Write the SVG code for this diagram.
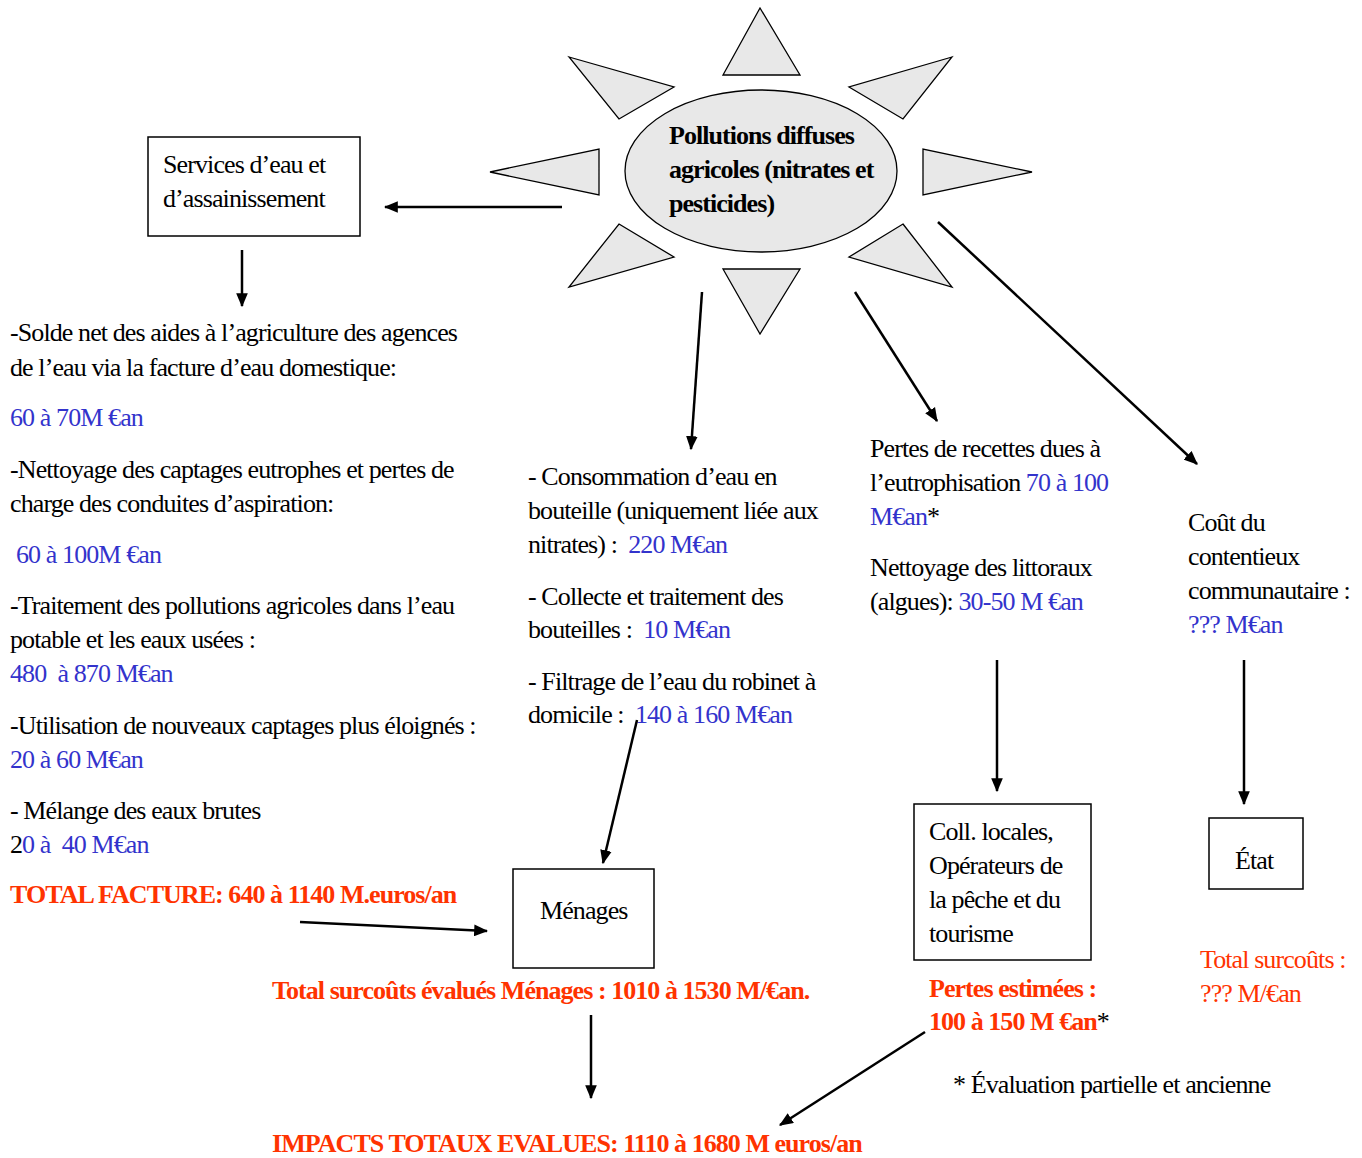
<svg xmlns="http://www.w3.org/2000/svg" width="1362" height="1158" viewBox="0 0 1362 1158">
<style>
text{font-family:"Liberation Serif","Times New Roman",serif;font-size:26px;letter-spacing:-0.9px;fill:#000}
.b{font-weight:bold;letter-spacing:-0.95px}
.bl{fill:#3333CC}
.rd{fill:#FF3300}
.k{fill:#000}
.ray{fill:#E8E8E8;stroke:#000;stroke-width:1.3}
.box{fill:#fff;stroke:#000;stroke-width:1.5}
.c{stroke:#000;stroke-width:2.5;fill:none;marker-end:url(#ah)}
</style>
<defs>
<marker id="ah" viewBox="0 0 12 10" refX="11" refY="5" markerWidth="14" markerHeight="12" markerUnits="userSpaceOnUse" orient="auto">
<path d="M0,0 L12,5 L0,10 Z" fill="#000"/>
</marker>
</defs>
<g id="sun">
<polygon class="ray" points="760,8 800,75 723,75"/>
<polygon class="ray" points="569,57 674,87 619,119"/>
<polygon class="ray" points="952,57 849,87 903,119"/>
<polygon class="ray" points="490,172 599,149 599,195"/>
<polygon class="ray" points="1032,172 923,149 923,195"/>
<polygon class="ray" points="619,224 674,257 569,287"/>
<polygon class="ray" points="903,224 952,287 849,257"/>
<polygon class="ray" points="723,269 800,269 760,334"/>
<ellipse cx="761" cy="171" rx="136" ry="81" fill="#E8E8E8" stroke="#000" stroke-width="1.3"/>
<text class="b" x="669" y="144">Pollutions diffuses</text>
<text class="b" x="669" y="178">agricoles (nitrates et</text>
<text class="b" x="669" y="212">pesticides)</text>
</g>
<g id="services">
<rect class="box" x="148" y="137" width="212" height="99"/>
<text x="163" y="173">Services d’eau et</text>
<text x="163" y="207">d’assainissement</text>
</g>
<g id="left-list">
<text x="10" y="341">-Solde net des aides à l’agriculture des agences</text>
<text x="10" y="376">de l’eau via la facture d’eau domestique:</text>
<text class="bl" x="10" y="426">60 à 70M €an</text>
<text x="10" y="478">-Nettoyage des captages eutrophes et pertes de</text>
<text x="10" y="512">charge des conduites d’aspiration:</text>
<text class="bl" x="16" y="563">60 à 100M €an</text>
<text x="10" y="614">-Traitement des pollutions agricoles dans l’eau</text>
<text x="10" y="648">potable et les eaux usées :</text>
<text class="bl" x="10" y="682" xml:space="preserve">480  à 870 M€an</text>
<text x="10" y="734">-Utilisation de nouveaux captages plus éloignés :</text>
<text class="bl" x="10" y="768">20 à 60 M€an</text>
<text x="10" y="819">- Mélange des eaux brutes</text>
<text x="10" y="853" xml:space="preserve">2<tspan class="bl">0 à  40 M€an</tspan></text>
<text class="b rd" x="10" y="903">TOTAL FACTURE: 640 à 1140 M.euros/an</text>
</g>
<g id="menages">
<rect class="box" x="513" y="869" width="141" height="99"/>
<text x="540" y="919">Ménages</text>
</g>
<text class="b rd" x="272" y="999">Total surcoûts évalués Ménages : 1010 à 1530 M/€an.</text>
<g id="middle-list">
<text x="528" y="485">- Consommation d’eau en</text>
<text x="528" y="519">bouteille (uniquement liée aux</text>
<text x="528" y="553" xml:space="preserve">nitrates) :  <tspan class="bl">220 M€an</tspan></text>
<text x="528" y="605">- Collecte et traitement des</text>
<text x="528" y="638" xml:space="preserve">bouteilles :  <tspan class="bl">10 M€an</tspan></text>
<text x="528" y="690">- Filtrage de l’eau du robinet à</text>
<text x="528" y="723" xml:space="preserve">domicile :  <tspan class="bl">140 à 160 M€an</tspan></text>
</g>
<g id="eutro-list">
<text x="870" y="457">Pertes de recettes dues à</text>
<text x="870" y="491">l’eutrophisation <tspan class="bl">70 à 100</tspan></text>
<text x="870" y="525"><tspan class="bl">M€an</tspan>*</text>
<text x="870" y="576">Nettoyage des littoraux</text>
<text x="870" y="610">(algues): <tspan class="bl">30-50 M €an</tspan></text>
</g>
<g id="coll">
<rect class="box" x="914" y="804" width="177" height="156"/>
<text x="929" y="840">Coll. locales,</text>
<text x="929" y="874">Opérateurs de</text>
<text x="929" y="908">la pêche et du</text>
<text x="929" y="942">tourisme</text>
</g>
<text class="b rd" x="929" y="997">Pertes estimées :</text>
<text class="b rd" x="929" y="1030">100 à 150 M €an<tspan class="k" font-weight="normal">*</tspan></text>
<g id="contentieux">
<text x="1188" y="531">Coût du</text>
<text x="1188" y="565">contentieux</text>
<text x="1188" y="599">communautaire :</text>
<text class="bl" x="1188" y="633">??? M€an</text>
</g>
<g id="etat">
<rect class="box" x="1209" y="818" width="94" height="71"/>
<text x="1235" y="869">État</text>
</g>
<text class="rd" x="1200" y="968">Total surcoûts :</text>
<text class="rd" x="1200" y="1002">??? M/€an</text>
<text x="953" y="1093">* Évaluation partielle et ancienne</text>
<text class="b rd" x="272" y="1152">IMPACTS TOTAUX EVALUES: 1110 à 1680 M euros/an</text>
<g id="connectors">
<line class="c" x1="562" y1="207" x2="385" y2="207"/>
<line class="c" x1="242" y1="250" x2="242" y2="306"/>
<line class="c" x1="702" y1="292" x2="691" y2="449"/>
<line class="c" x1="855" y1="292" x2="937" y2="421"/>
<line class="c" x1="938" y1="222" x2="1197" y2="464"/>
<line class="c" x1="637" y1="720" x2="603" y2="863"/>
<line class="c" x1="300" y1="922" x2="487" y2="931"/>
<line class="c" x1="997" y1="660" x2="997" y2="791"/>
<line class="c" x1="1244" y1="660" x2="1244" y2="804"/>
<line class="c" x1="591" y1="1015" x2="591" y2="1098"/>
<line class="c" x1="925" y1="1032" x2="780" y2="1125"/>
</g>
</svg>
